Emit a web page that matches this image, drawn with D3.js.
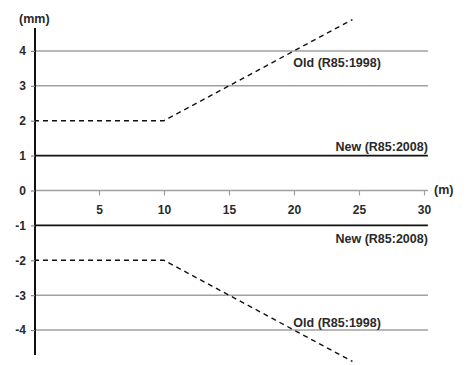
<!DOCTYPE html>
<html><head><meta charset="utf-8">
<script src="https://cdn.jsdelivr.net/npm/d3@7"></script>
<style>body{margin:0;background:#fff}svg{display:block}text{font-family:"Liberation Sans",Arial,sans-serif;font-weight:bold;fill:#2a2a2a}</style>
</head><body>
<script>
const xTicks = [5, 10, 15, 20, 25, 30];
const yTicks = [4, 3, 2, 1, 0, -1, -2, -3, -4];
const grayGrid = [4, 3, -3, -4];
const newLevels = [1, -1];
const oldUpper = [[0, 2], [10, 2], [24.5, 4.9]];
const oldLower = [[0, -2], [10, -2], [24.5, -4.9]];
const labels = [
  {text: "Old (R85:1998)", x: 19.95, y: 3.55, anchor: "start"},
  {text: "New (R85:2008)", x: 30.3, y: 1.14, anchor: "end"},
  {text: "New (R85:2008)", x: 30.3, y: -1.5, anchor: "end"},
  {text: "Old (R85:1998)", x: 19.95, y: -3.9, anchor: "start"}
];

const W = 467, H = 365;
const svg = d3.select("body").append("svg").attr("width", W).attr("height", H);
const x = d3.scaleLinear().domain([0, 30]).range([34, 424]);
const y = d3.scaleLinear().domain([-4.7, 4.7]).range([354.5, 26.5]);
const xEnd = x(30.3);
const fmt = d => String(d);

// gray gridlines
svg.selectAll(".g").data(grayGrid).join("line")
  .attr("x1", x(0)).attr("x2", xEnd).attr("y1", d => y(d)).attr("y2", d => y(d))
  .attr("stroke", "#a0a0a0").attr("stroke-width", 1.4);

// x axis (gray)
const xa = svg.append("g").attr("transform", `translate(0,${y(0)})`)
  .call(d3.axisBottom(x).tickValues(xTicks).tickFormat(fmt).tickSize(5).tickSizeOuter(0));
xa.select(".domain").attr("d", `M${x(0)},0H${xEnd}`).attr("stroke", "#a0a0a0").attr("stroke-width", 1.4);
xa.selectAll(".tick line").attr("stroke", "#a0a0a0").attr("stroke-width", 1.2);
xa.selectAll(".tick text").attr("font-size", 12).attr("font-family", null)
  .attr("y", 23).attr("dy", 0).style("fill", "#2a2a2a");

// new levels (black solid)
svg.selectAll(".n").data(newLevels).join("line")
  .attr("x1", x(0)).attr("x2", xEnd).attr("y1", d => y(d)).attr("y2", d => y(d))
  .attr("stroke", "#111").attr("stroke-width", 1.8);

// old dashed
const line = d3.line().x(d => x(d[0])).y(d => y(d[1]));
[oldUpper, oldLower].forEach(dat => {
  svg.append("path").attr("d", line(dat)).attr("fill", "none")
    .attr("stroke", "#111").attr("stroke-width", 1.4).attr("stroke-dasharray", "5,4");
});

// y axis
const ya = svg.append("g").attr("transform", `translate(${x(0) + 1},0)`)
  .call(d3.axisLeft(y).tickValues(yTicks).tickFormat(fmt).tickSize(4).tickPadding(5).tickSizeOuter(0));
ya.select(".domain").attr("d", `M0,28V355`).attr("stroke", "#111").attr("stroke-width", 2);
ya.selectAll(".tick line").attr("stroke", "#888").attr("stroke-width", 1.2);
ya.selectAll(".tick text").attr("font-size", 12).attr("font-family", null).style("fill", "#2a2a2a");

// labels
svg.selectAll(".lab").data(labels).join("text")
  .attr("x", d => x(d.x)).attr("y", d => y(d.y)).attr("text-anchor", d => d.anchor)
  .attr("font-size", 12.5).text(d => d.text);

svg.append("text").attr("x", 19).attr("y", 22.5).attr("font-size", 12.5).text("(mm)");
svg.append("text").attr("x", 434).attr("y", 194).attr("font-size", 12.5).text("(m)");
</script>
</body></html>
